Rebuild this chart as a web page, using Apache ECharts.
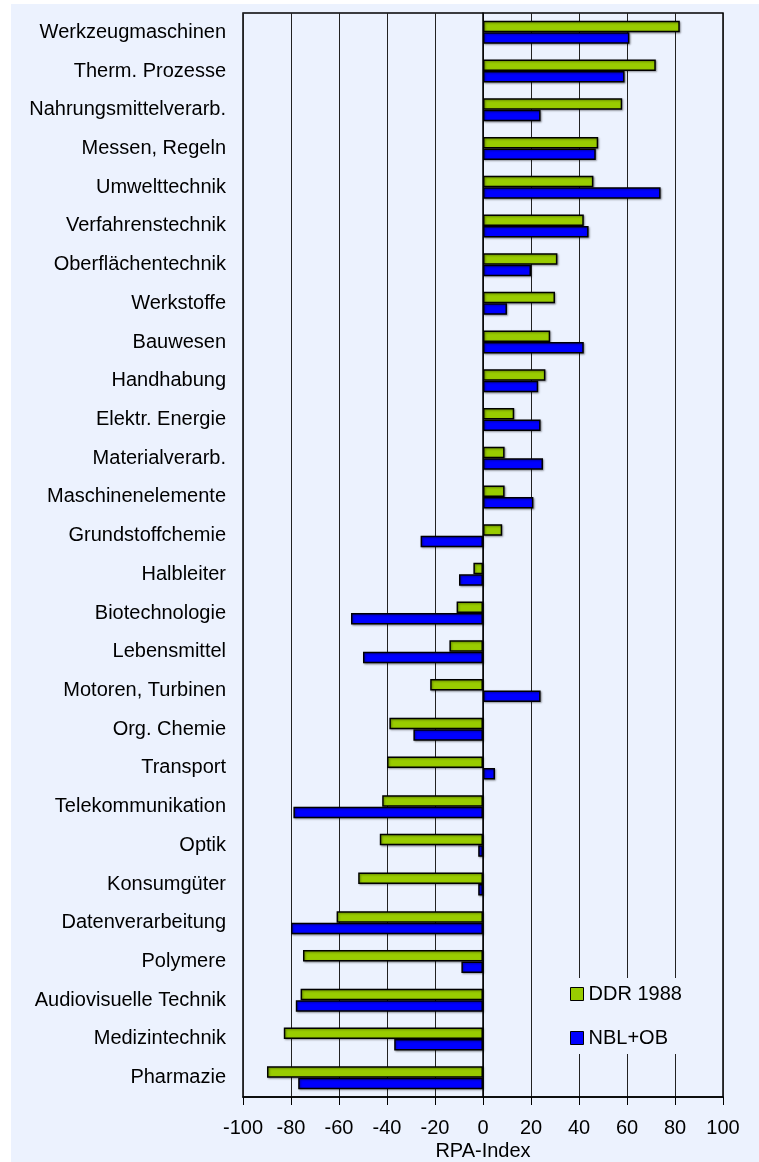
<!DOCTYPE html>
<html>
<head>
<meta charset="utf-8">
<script src="https://cdn.jsdelivr.net/npm/echarts@6/dist/echarts.min.js"></script>
<style>
html,body{margin:0;padding:0;background:#ffffff;}
#panel{position:absolute;left:11px;top:4px;width:748px;height:1158px;background:#ECF2FE;}
#chart{position:absolute;left:0;top:0;width:759px;height:1162px;}
</style>
</head>
<body>
<div id="panel"></div>
<div id="chart"></div>
<script>
const categories = [
  "Werkzeugmaschinen","Therm. Prozesse","Nahrungsmittelverarb.","Messen, Regeln",
  "Umwelttechnik","Verfahrenstechnik","Oberflächentechnik","Werkstoffe","Bauwesen",
  "Handhabung","Elektr. Energie","Materialverarb.","Maschinenelemente","Grundstoffchemie",
  "Halbleiter","Biotechnologie","Lebensmittel","Motoren, Turbinen","Org. Chemie",
  "Transport","Telekommunikation","Optik","Konsumgüter","Datenverarbeitung",
  "Polymere","Audiovisuelle Technik","Medizintechnik","Pharmazie"
];
const ddr1988 = [82,72,58,48,46,42,31,30,28,26,13,9,9,8,-4,-11,-14,-22,-39,-40,-42,-43,-52,-61,-75,-76,-83,-90];
const nblOb   = [61,59,24,47,74,44,20,10,42,23,24,25,21,-26,-10,-55,-50,24,-29,5,-79,-2,-2,-80,-9,-78,-37,-77];
const seriesNames = ["DDR 1988","NBL+OB"];
const xTicks = {min:-100, max:100, interval:20};
const axisTitle = "RPA-Index";

const FONT = "Liberation Sans, Arial, sans-serif";
const FS = 20;
const chart = echarts.init(document.getElementById('chart'), null, {renderer:'canvas'});
const barStyle = (color) => ({
  color: color, borderColor:'#000', borderWidth:1.5,
  shadowColor:'rgba(0,0,0,0.35)', shadowBlur:2, shadowOffsetX:1, shadowOffsetY:1
});
chart.setOption({
  backgroundColor:'transparent',
  animation:false,
  textStyle:{fontFamily:FONT},
  grid:{left:243, right:36, top:13, bottom:65, show:true, borderColor:'#000', borderWidth:1.5,
        backgroundColor:'transparent', containLabel:false, outerBoundsMode:'none'},
  legend:{
    orient:'vertical', left:566, top:978,
    padding:[6,8,6,4], itemGap:24, itemWidth:13, itemHeight:13,
    backgroundColor:'#ECF2FE',
    icon:'rect',
    textStyle:{fontSize:FS, color:'#000', fontFamily:FONT},
    itemStyle:{borderColor:'#000', borderWidth:1},
    data:seriesNames
  },
  xAxis:{
    type:'value', min:xTicks.min, max:xTicks.max, interval:xTicks.interval,
    name:axisTitle, nameLocation:'middle', nameGap:44, nameMoveOverlap:false,
    nameTextStyle:{fontSize:FS, color:'#000', fontFamily:FONT},
    axisLine:{show:true, lineStyle:{color:'#000', width:1.5}},
    axisTick:{show:true, length:8, inside:false, lineStyle:{color:'#000'}},
    axisLabel:{fontSize:FS, color:'#000', margin:21, fontFamily:FONT},
    splitLine:{show:true, lineStyle:{color:'#222', width:1}}
  },
  yAxis:{
    type:'category', data:categories, inverse:true,
    axisLine:{show:true, lineStyle:{color:'#000', width:1.5}},
    axisTick:{show:false},
    axisLabel:{fontSize:FS, color:'#000', margin:17, fontFamily:FONT},
    splitLine:{show:false}
  },
  series:[
    {name:seriesNames[0], type:'bar', data:ddr1988, barWidth:11.5, barGap:'0%', itemStyle:barStyle('#99CC00')},
    {name:seriesNames[1], type:'bar', data:nblOb, barWidth:11.5, barGap:'0%', itemStyle:barStyle('#0000FF')}
  ]
});
</script>
</body>
</html>
